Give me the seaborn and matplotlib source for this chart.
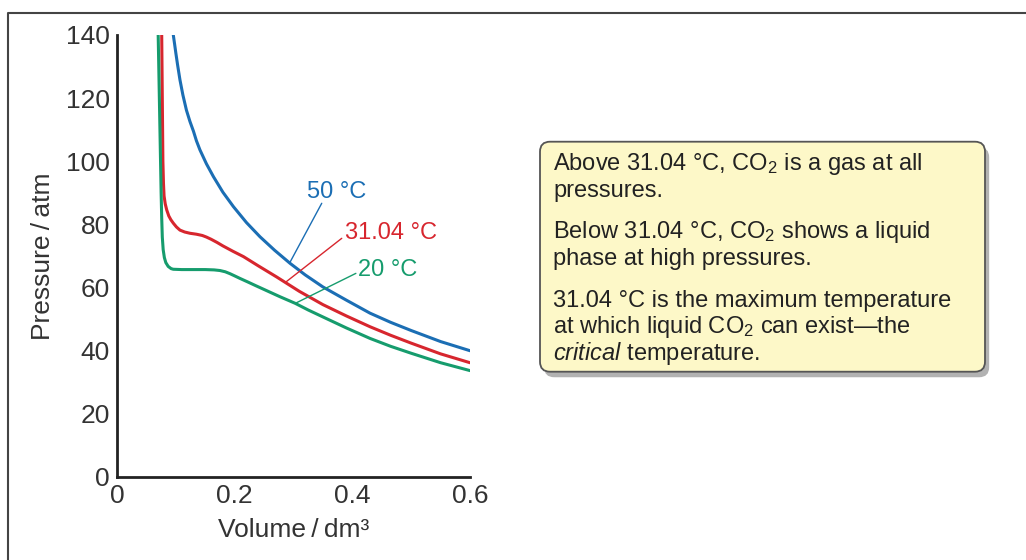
import pandas as pd
import seaborn as sns
import matplotlib.pyplot as plt
import matplotlib.patheffects as pe
from matplotlib.patches import FancyBboxPatch
from matplotlib.lines import Line2D

# isotherms (volume in dm3, pressure in atm)
vol_50 = [0.0957, 0.098, 0.100, 0.103, 0.107, 0.112, 0.118, 0.124, 0.130,
          0.135, 0.141, 0.152, 0.164, 0.180, 0.198, 0.220, 0.243, 0.268,
          0.294, 0.320, 0.350, 0.390, 0.430, 0.465, 0.500, 0.550, 0.600]
p_50 = [140, 137, 134.3, 130.5, 125.8, 121, 116.2, 112.6, 109.5,
        106.5, 103.6, 99.2, 95.1, 90.2, 85.6, 80.6, 76.1, 71.8,
        67.7, 64.0, 60.2, 56.0, 51.9, 49.0, 46.4, 42.9, 40.0]

vol_31 = [0.0760, 0.0765, 0.0770, 0.0775, 0.0780, 0.0790, 0.0800, 0.0820,
          0.0845, 0.0880, 0.0915, 0.0957, 0.101, 0.107, 0.115, 0.124, 0.135,
          0.145, 0.152, 0.160, 0.170, 0.180, 0.197, 0.215, 0.240, 0.271,
          0.310, 0.350, 0.390, 0.430, 0.465, 0.500, 0.550, 0.600]
p_31 = [140, 130, 120, 110, 100, 93, 89, 86.5,
        84.6, 82.7, 81.5, 80.4, 79.2, 78.2, 77.6, 77.2, 76.9,
        76.5, 76.0, 75.3, 74.3, 73.2, 71.5, 69.8, 66.9, 63.4,
        58.8, 54.6, 51.0, 47.6, 44.9, 42.4, 39.0, 36.2]

vol_20 = [0.0700, 0.0710, 0.0720, 0.0730, 0.0740, 0.0750, 0.0760, 0.0770,
          0.0785, 0.0805, 0.0830, 0.0870, 0.0920, 0.0957, 0.110, 0.130,
          0.150, 0.165, 0.175, 0.184, 0.192, 0.200, 0.209, 0.222, 0.237,
          0.257, 0.277, 0.303, 0.325, 0.350, 0.390, 0.430, 0.465, 0.500,
          0.550, 0.600]
p_20 = [140, 130, 120, 110, 100, 90, 82, 76,
        72, 69.5, 67.9, 66.7, 66.0, 65.8, 65.7, 65.7,
        65.7, 65.6, 65.4, 65.0, 64.4, 63.7, 62.9, 61.8, 60.5,
        58.8, 57.1, 55.0, 52.9, 50.7, 47.2, 43.9, 41.4, 39.2,
        36.2, 33.7]

x_ticks = [0, 0.2, 0.4, 0.6]
x_ticklabels = ['0', '0.2', '0.4', '0.6']
y_ticks = [0, 20, 40, 60, 80, 100, 120, 140]

box_lines = [
    'Above 31.04 °C, CO$_2$ is a gas at all',
    'pressures.',
    'Below 31.04 °C, CO$_2$ shows a liquid',
    'phase at high pressures.',
    '31.04 °C is the maximum temperature',
    'at which liquid CO$_2$ can exist\u2014the',
    '$\\mathit{critical}$ temperature.',
]

BLUE = '#1b6eb4'
RED = '#d7262e'
GREEN = '#169c6d'

sns.set_style('white')
plt.rcParams['font.family'] = ['Liberation Sans', 'DejaVu Sans']
plt.rcParams['mathtext.fontset'] = 'custom'
plt.rcParams['mathtext.rm'] = 'Liberation Sans'
plt.rcParams['mathtext.it'] = 'Liberation Sans:italic'

fig = plt.figure(figsize=(10.26, 5.6), dpi=100)
ax = fig.add_axes([117 / 1026, 83 / 560, 353 / 1026, 442 / 560])

curves = [(vol_50, p_50, BLUE), (vol_31, p_31, RED), (vol_20, p_20, GREEN)]
for vol, p, col in curves:
    df = pd.DataFrame({'V': vol, 'P': p})
    sns.lineplot(data=df, x='V', y='P', ax=ax, color=col, lw=2.2)

ax.set_xlim(0, 0.6)
ax.set_ylim(0, 140)
ax.set_xticks(x_ticks)
ax.set_xticklabels(x_ticklabels)
ax.set_yticks(y_ticks)
ax.tick_params(direction='in', length=9, width=1, colors='#333',
               labelsize=19, pad=5)
for s in ['top', 'right']:
    ax.spines[s].set_visible(False)
for s in ['left', 'bottom']:
    ax.spines[s].set_linewidth(2)
    ax.spines[s].set_color('#222')

ax.set_xlabel('Volume\u2009/\u2009dm³', fontsize=19, color='#333', labelpad=7)
ax.set_ylabel('Pressure\u2009/\u2009atm', fontsize=19, color='#333', labelpad=8)

# curve labels with leader lines
ax.text(0.3735, 90.4, '50 °C', color=BLUE, fontsize=17, ha='center', va='center')
ax.annotate('', xy=(0.294, 68.0), xytext=(0.348, 86.7),
            arrowprops=dict(arrowstyle='-', color=BLUE, lw=1, shrinkA=0, shrinkB=0))
ax.text(0.3876, 77.2, '31.04 °C', color=RED, fontsize=17, ha='left', va='center')
ax.annotate('', xy=(0.288, 61.9), xytext=(0.382, 75.6),
            arrowprops=dict(arrowstyle='-', color=RED, lw=1, shrinkA=0, shrinkB=0))
ax.text(0.410, 65.6, '20 °C', color=GREEN, fontsize=17, ha='left', va='center')
ax.annotate('', xy=(0.303, 55.0), xytext=(0.406, 64.5),
            arrowprops=dict(arrowstyle='-', color=GREEN, lw=1, shrinkA=0, shrinkB=0))

# explanation box (inches on the figure)
box = FancyBboxPatch((5.40, (560 - 371.7) / 100), 4.45, 2.30,
                     boxstyle='round,pad=0,rounding_size=0.1',
                     transform=fig.dpi_scale_trans, facecolor='#fdf8c8',
                     edgecolor='#555555', lw=1.3)
box.set_path_effects([pe.withSimplePatchShadow(offset=(3, -4), shadow_rgbFace='k',
                                               alpha=0.3)])
fig.add_artist(box)

baselines = [170, 196.7, 238, 265, 306.7, 333, 360]
for txt, yb in zip(box_lines, baselines):
    fig.text(5.53, (560 - yb) / 100, txt, transform=fig.dpi_scale_trans,
             fontsize=17, color='#222', ha='left', va='baseline')

# frame of the cropped figure
fig.add_artist(Line2D([8 / 1026, 8 / 1026, 1], [0, 1 - 13 / 560, 1 - 13 / 560],
                      transform=fig.transFigure, color='#444', lw=1.5))

fig.savefig('out.png', dpi=100)
